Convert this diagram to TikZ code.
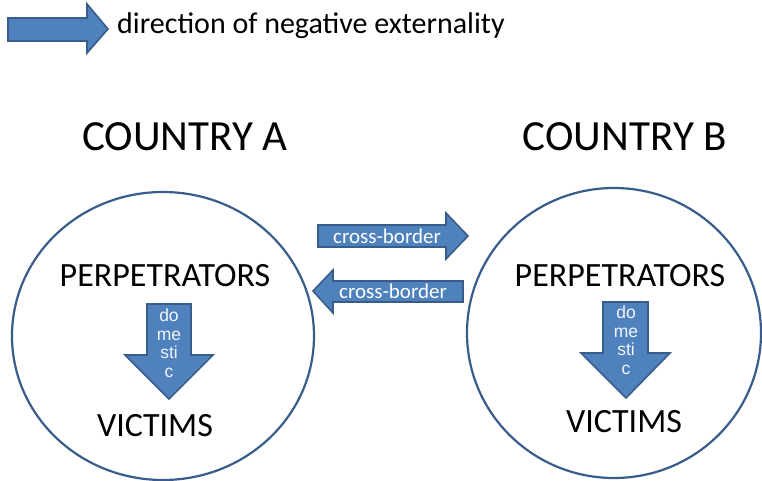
\documentclass[tikz,border=0pt]{standalone}
\usepackage{fontspec}
\setmainfont{Carlito}
\newfontfamily\arialfont{Liberation Sans}
\definecolor{arrowblue}{RGB}{79, 129, 189}
\definecolor{edgeblue}{RGB}{56, 93, 138}
\usetikzlibrary{positioning}

\newcommand{\fsz}[1]{\fontsize{#1}{1.2\dimexpr#1pt\relax}\selectfont}

\begin{document}
\begin{tikzpicture}[x=1pt, y=-1pt,
  blockarrow/.style={draw=edgeblue, fill=arrowblue, line width=1.6pt, line join=miter},
  bigtext/.style={font=\fsz{43}, inner sep=0pt},
  roletext/.style={font=\fsz{34}, inner sep=0pt},
  crosstext/.style={font=\fsz{21}, text=white, inner sep=0pt},
  domtext/.style={font=\arialfont\fontsize{17.5}{18.5}\selectfont, text=white!92!arrowblue, align=center, inner sep=0pt}
]
  \useasboundingbox (0,0) rectangle (762,481);

  % legend
  \draw[blockarrow] (8,18) -- (87,18) -- (87,4) -- (108,29) -- (87,53) -- (87,41) -- (8,41) -- cycle;
  \node[font=\fsz{30}, anchor=west, inner sep=0pt] (legend) at (117,26) {direction of negative externality};

  % countries
  \node[bigtext] (titleA) at (185,137) {COUNTRY A};
  \node[bigtext] (titleB) at (625,137) {COUNTRY B};
  \draw[edgeblue, line width=2.2pt] (163,336) ellipse [x radius=151, y radius=144];
  \draw[edgeblue, line width=2.2pt] (614,333) ellipse [x radius=147, y radius=145];

  \node[roletext] (perpA) at (165,276) {PERPETRATORS};
  \node[roletext] (victA) at (155,426) {VICTIMS};
  \node[roletext] (perpB) at (620,276) {PERPETRATORS};
  \node[roletext] (victB) at (624,422) {VICTIMS};

  % domestic arrows
  \draw[blockarrow] (147,304) -- (191,304) -- (191,355) -- (213,355) -- (169,399) -- (125,355) -- (147,355) -- cycle;
  \node[domtext] (domA) at (169,343) {do\\me\\sti\\c};
  \draw[blockarrow] (603,302) -- (648,302) -- (648,353) -- (670,353) -- (626,398) -- (581,353) -- (603,353) -- cycle;
  \node[domtext] (domB) at (626,340) {do\\me\\sti\\c};

  % cross-border arrows
  \draw[blockarrow] (318,225) -- (446,225) -- (446,213) -- (468,236) -- (446,259) -- (446,247) -- (318,247) -- cycle;
  \node[crosstext] (crossAB) at (387,236) {cross-border};
  \draw[blockarrow] (463,281) -- (333,281) -- (333,270) -- (313,291) -- (333,313) -- (333,302) -- (463,302) -- cycle;
  \node[crosstext] (crossBA) at (393,291) {cross-border};
\end{tikzpicture}
\end{document}
